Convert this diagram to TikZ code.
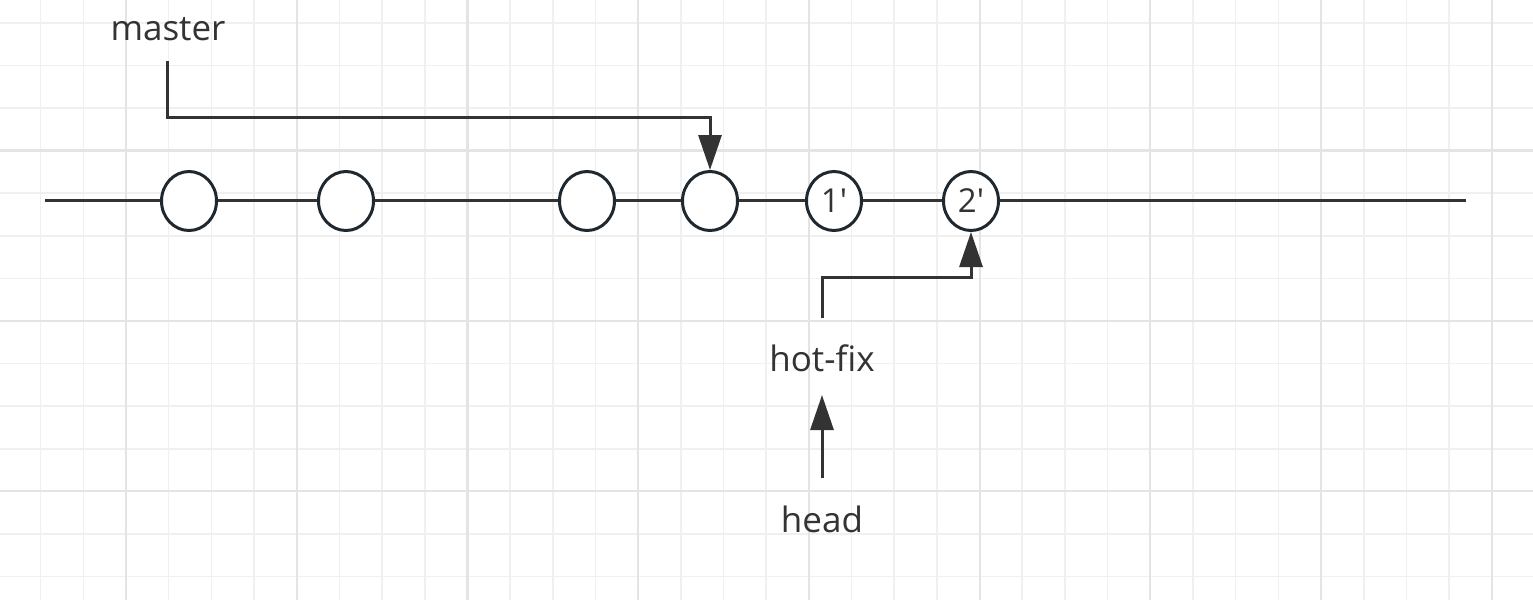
\documentclass[tikz,border=0pt]{standalone}
\usepackage{fontspec}
\setmainfont{Open Sans}
\usetikzlibrary{arrows.meta,shapes.geometric}
\definecolor{ink}{HTML}{333333}
\definecolor{ring}{HTML}{1F282F}
\definecolor{gridminor}{HTML}{F0F0F0}
\definecolor{gridmajor}{HTML}{E4E4E4}
\tikzset{
  gminor/.style={draw=gridminor, line width=1.6pt},
  gmajor/.style={draw=gridmajor, line width=2.2pt},
  commit/.style={ellipse, draw=ring, fill=white, line width=3pt, minimum width=55pt, minimum height=59pt, inner sep=0pt, font=\fontsize{33}{36}\selectfont, text=ink},
  lbl/.style={anchor=base, inner sep=0pt, font=\fontsize{35}{40}\selectfont, text=ink},
  conn/.style={draw=ink, line width=3pt},
  arr/.style={conn, -{Triangle[length=35pt,width=23pt]}},
}
\begin{document}
\begin{tikzpicture}[x=1pt,y=-1pt]
\useasboundingbox (0,0) rectangle (1533,600);
\fill[white] (0,0) rectangle (1533,600);
% grid
\foreach \i in {-2,...,32} { \draw[gminor] ({126+42.68*\i},0) -- ++(0,600); }
\foreach \j in {-3,...,10} { \draw[gminor] (0,{150.5+42.6*\j}) -- ++(1533,0); }
\foreach \i in {0,4,...,32} { \draw[gmajor] ({126+42.68*\i},0) -- ++(0,600); }
\foreach \j in {0,4,8} { \draw[gmajor] (0,{150.5+42.6*\j}) -- ++(1533,0); }
% main line
\coordinate (L) at (45,200);
\coordinate (R) at (1466,200);
\draw[draw=ink, line width=3pt] (L) -- (R);
% commits
\node[commit] (c1) at (189,201) {};
\node[commit] (c2) at (346,201) {};
\node[commit] (c3) at (587,201) {};
\node[commit] (c4) at (710,201) {};
\node[commit] (c5) at (834,201) {1\textquotesingle};
\node[commit] (c6) at (971,201) {2\textquotesingle};
% labels
\node[lbl] (master) at (168,40) {master};
\node[lbl] (hotfix) at (822,371) {hot-fix};
\node[lbl] (head) at (822,532) {head};
% connectors
\coordinate (m1) at (167,61);
\draw[arr] (m1) -- (167,117) -| (c4.north);
\coordinate (h1) at (822,318);
\draw[arr] (h1) -- (822,277) -| (c6.south);
\coordinate (hd) at (822,478);
\coordinate (hf) at (822,395);
\draw[arr] (hd) -- (hf);
\end{tikzpicture}
\end{document}
